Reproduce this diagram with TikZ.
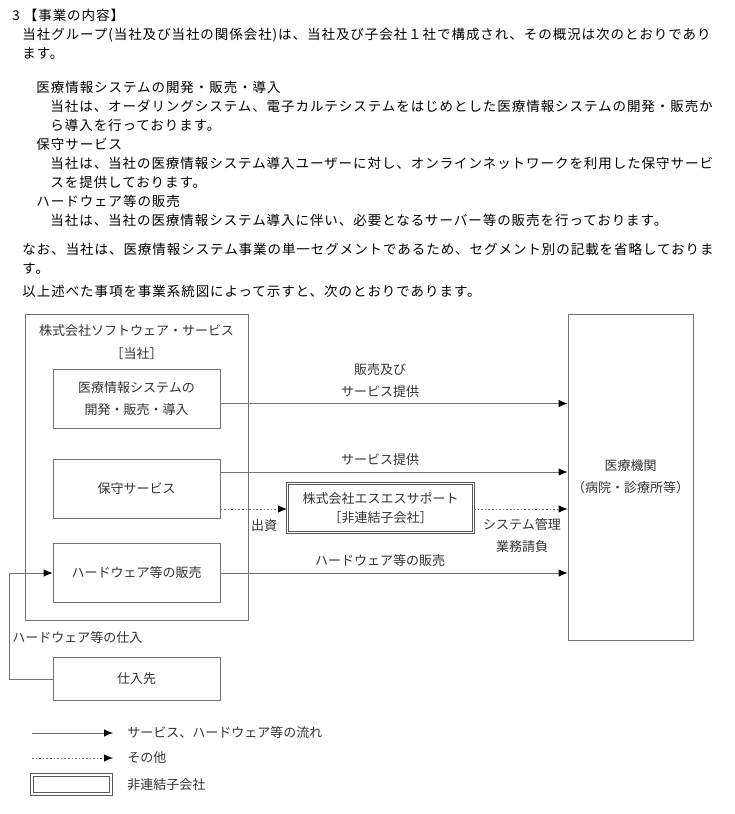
\documentclass[tikz,border=0pt]{standalone}
\usepackage{fontspec}
\newfontfamily\gothic[LetterSpace=7]{Noto Sans CJK JP}
\newfontfamily\mincho{Noto Sans CJK JP}
\usetikzlibrary{arrows.meta,positioning}

\begin{document}
\begin{tikzpicture}[x=1pt, y=-1pt, >={Latex[length=9pt,width=7.5pt,color=black]}, line width=0.9pt]
\tikzstyle{txt}=[anchor=west, inner sep=0pt, font=\gothic\fontsize{13.5}{19}\selectfont]
\tikzstyle{lbl}=[inner sep=0pt, align=center, text=black!80,
                 font=\mincho\fontsize{13}{22}\selectfont]
\tikzstyle{boite}=[lbl, draw=black!55, minimum width=167pt]
% boite double = societe non consolidee
\tikzstyle{boiteNC}=[boite, draw=black!65, double, double distance=1.5pt, line width=1pt]
\tikzstyle{flux}=[->, draw=black!55]
\tikzstyle{autre}=[flux, dash pattern=on 1.6pt off 2pt]

\useasboundingbox (0,0) rectangle (735,814);

% texte
\node[txt] (t1) at (12,15) {3 【事業の内容】};
\node[txt] (t2) at (22,35) {当社グループ(当社及び当社の関係会社)は、当社及び子会社１社で構成され、その概況は次のとおりであり};
\node[txt] (t3) at (22,54) {ます。};
\node[txt] (t4) at (36,87) {医療情報システムの開発・販売・導入};
\node[txt] (t5) at (50,106) {当社は、オーダリングシステム、電子カルテシステムをはじめとした医療情報システムの開発・販売か};
\node[txt] (t6) at (50,125) {ら導入を行っております。};
\node[txt] (t7) at (36,144) {保守サービス};
\node[txt] (t8) at (50,163) {当社は、当社の医療情報システム導入ユーザーに対し、オンラインネットワークを利用した保守サービ};
\node[txt] (t9) at (50,182) {スを提供しております。};
\node[txt] (t10) at (36,201) {ハードウェア等の販売};
\node[txt] (t11) at (50,220) {当社は、当社の医療情報システム導入に伴い、必要となるサーバー等の販売を行っております。};
\node[txt] (t12) at (22,249) {なお、当社は、医療情報システム事業の単一セグメントであるため、セグメント別の記載を省略しておりま};
\node[txt] (t13) at (22,269) {す。};
\node[txt] (t14) at (22,291) {以上述べた事項を事業系統図によって示すと、次のとおりであります。};

% boites
\node[boite, minimum width=223pt, minimum height=306pt] (soc) at (136.5,467) {};
\node[lbl] (nom) at (136.5,331) {株式会社ソフトウェア・サービス};
\node[lbl, below=10pt of nom] (nous) {［当社］};
\node[boite, minimum height=59pt] (b1) at (136.5,399) {医療情報システムの\\開発・販売・導入};
\node[boite, minimum height=59pt] (b2) at (136.5,489) {保守サービス};
\node[boite, minimum height=59pt] (b3) at (136.5,573) {ハードウェア等の販売};
\node[boite, minimum height=43pt] (sup) at (136.5,679) {仕入先};
\node[boite, minimum width=125pt, minimum height=326pt] (med) at (630.5,477) {医療機関\\（病院・診療所等）};
\node[boiteNC, minimum width=186pt, minimum height=49pt] (ss) at (380.5,508)
     {株式会社エスエスサポート\\[-3pt]［非連結子会社］};

% fleches
\coordinate (v1) at ([yshift=-4.5pt]b1.east);
\coordinate (v2) at ([yshift=17pt]b2.east);
\coordinate (v3) at ([yshift=-20pt]b2.east);
\coordinate (coin) at (9,679);
\draw[flux] (v1) -- (v1 -| med.west);
\draw[flux] (v2) -- (v2 -| med.west);
\draw[autre] (v3) -- (v3 -| ss.west);
\draw[autre] (v3 -| ss.east) -- (v3 -| med.west);
\draw[flux] (b3.east) -- (b3.east -| med.west);
\draw[flux] (sup.west) -- (coin) |- (b3.west);

\node[lbl] (l1) at (380,381) {販売及び\\サービス提供};
\node[lbl] (l2) at (380,460) {サービス提供};
\node[lbl] (l3) at (264,526) {出資};
\node[lbl] (l4) at (522,536) {システム管理\\業務請負};
\node[lbl] (l5) at (380,561) {ハードウェア等の販売};
\node[lbl, anchor=west] (l6) at (12,638) {ハードウェア等の仕入};

% legende
\coordinate (la) at (32,733);
\coordinate (lb) at (32,758);
\draw[flux] (la) -- ++(81,0) coordinate (la2);
\draw[autre] (lb) -- ++(81,0) coordinate (lb2);
\node[boiteNC, minimum width=79pt, minimum height=19pt] (lc) at (71.5,784.5) {};
\node[lbl, anchor=west] (ta) at (127,733) {サービス、ハードウェア等の流れ};
\node[lbl, anchor=west] (tb) at (127,758) {その他};
\node[lbl, anchor=west] (tc) at (127,785) {非連結子会社};
\end{tikzpicture}
\end{document}
